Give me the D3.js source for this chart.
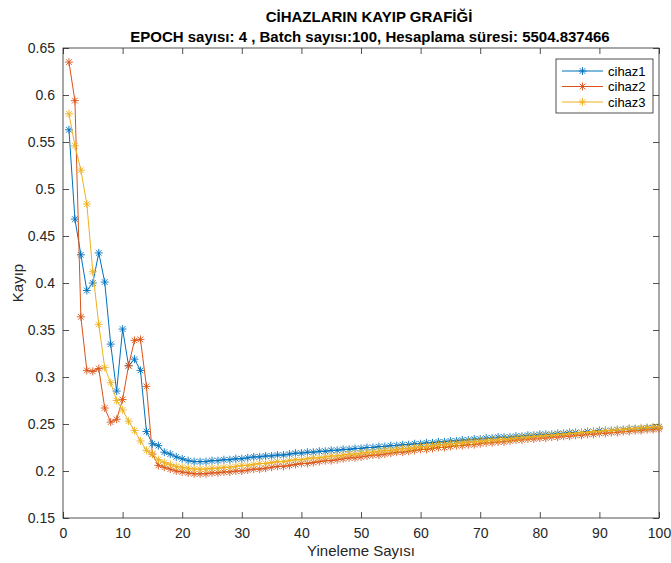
<!DOCTYPE html>
<html><head><meta charset="utf-8">
<script src="https://cdn.jsdelivr.net/npm/d3@7"></script>
<style>body{margin:0;background:#fff}svg{display:block;font-family:"Liberation Sans",Arial,Helvetica,sans-serif}</style>
</head><body><svg id="c" width="671" height="563"></svg>
<script>
const titleLines = ["CİHAZLARIN KAYIP GRAFİĞİ", "EPOCH sayısı: 4 , Batch sayısı:100, Hesaplama süresi: 5504.837466"];
const xLabel = "Yineleme Sayısı";
const yLabel = "Kayıp";
const seriesNames = ["cihaz1", "cihaz2", "cihaz3"];
const seriesColors = ["#0072BD", "#D95319", "#EDB120"];
const xTicks = [0,10,20,30,40,50,60,70,80,90,100];
const yTicks = [0.15,0.2,0.25,0.3,0.35,0.4,0.45,0.5,0.55,0.6,0.65];

const cihaz1 = [0.563,0.468,0.430,0.392,0.400,0.432,0.401,0.335,0.285,0.351,
0.312,0.319,0.307,0.242,0.229,0.227,0.220,0.218,0.215,0.213,
0.211,0.210,0.210,0.210,0.211,0.211,0.212,0.212,0.213,0.213,
0.214,0.215,0.215,0.216,0.216,0.217,0.217,0.218,0.219,0.219,
0.220,0.220,0.221,0.221,0.222,0.222,0.223,0.223,0.224,0.224,
0.225,0.225,0.226,0.226,0.227,0.227,0.228,0.228,0.229,0.229,
0.230,0.230,0.231,0.231,0.232,0.232,0.233,0.233,0.234,0.234,
0.235,0.235,0.236,0.236,0.236,0.237,0.237,0.238,0.238,0.239,
0.239,0.239,0.240,0.240,0.241,0.241,0.241,0.242,0.242,0.243,
0.243,0.243,0.244,0.244,0.245,0.245,0.245,0.246,0.246,0.247];

const cihaz2 = [0.635,0.594,0.364,0.307,0.306,0.309,0.267,0.252,0.255,0.276,
0.312,0.339,0.340,0.290,0.218,0.206,0.204,0.202,0.200,0.199,
0.198,0.197,0.197,0.197,0.198,0.198,0.199,0.199,0.200,0.200,
0.201,0.202,0.202,0.203,0.204,0.205,0.205,0.206,0.207,0.208,
0.208,0.209,0.210,0.211,0.211,0.212,0.213,0.214,0.214,0.215,
0.216,0.217,0.217,0.218,0.219,0.220,0.220,0.221,0.222,0.223,
0.223,0.224,0.225,0.225,0.226,0.227,0.227,0.228,0.228,0.229,
0.230,0.230,0.231,0.231,0.232,0.233,0.233,0.234,0.234,0.235,
0.235,0.236,0.236,0.237,0.237,0.238,0.238,0.239,0.239,0.240,
0.240,0.241,0.241,0.242,0.242,0.243,0.243,0.244,0.244,0.245];

const cihaz3 = [0.580,0.546,0.520,0.484,0.412,0.356,0.310,0.294,0.275,0.265,
0.253,0.243,0.232,0.222,0.218,0.212,0.209,0.207,0.205,0.204,
0.203,0.202,0.202,0.202,0.203,0.203,0.204,0.204,0.205,0.206,
0.206,0.207,0.208,0.208,0.209,0.210,0.210,0.211,0.212,0.212,
0.213,0.214,0.214,0.215,0.216,0.216,0.217,0.218,0.218,0.219,
0.220,0.220,0.221,0.222,0.222,0.223,0.224,0.224,0.225,0.226,
0.226,0.227,0.228,0.228,0.229,0.229,0.230,0.231,0.231,0.232,
0.232,0.233,0.233,0.234,0.234,0.235,0.236,0.236,0.237,0.237,
0.238,0.238,0.239,0.239,0.240,0.240,0.241,0.241,0.242,0.242,
0.243,0.243,0.244,0.244,0.245,0.245,0.246,0.246,0.247,0.247];

const seriesValues = [cihaz1, cihaz2, cihaz3];

const svg = d3.select("#c");
const L = 63, R = 659, T = 48, B = 518;
const x = d3.scaleLinear().domain([0,100]).range([L,R]);
const y = d3.scaleLinear().domain([0.15,0.65]).range([B,T]);
const axisColor = "#262626";
const fmt = d => String(+d.toFixed(2));

svg.append("rect").attr("x",L).attr("y",T).attr("width",R-L).attr("height",B-T)
  .attr("fill","none").attr("stroke",axisColor).attr("stroke-width",0.8);

const gx = svg.append("g").attr("transform",`translate(0,${B})`)
  .call(d3.axisBottom(x).tickValues(xTicks).tickSizeInner(-6).tickSizeOuter(0).tickPadding(10).tickFormat(d=>d));
const gxt = svg.append("g").attr("transform",`translate(0,${T})`)
  .call(d3.axisTop(x).tickValues(xTicks).tickSizeInner(-6).tickSizeOuter(0).tickFormat(""));
const gy = svg.append("g").attr("transform",`translate(${L},0)`)
  .call(d3.axisLeft(y).tickValues(yTicks).tickSizeInner(-6).tickSizeOuter(0).tickPadding(8).tickFormat(fmt));
const gyr = svg.append("g").attr("transform",`translate(${R},0)`)
  .call(d3.axisRight(y).tickValues(yTicks).tickSizeInner(-6).tickSizeOuter(0).tickFormat(""));
[gx,gxt,gy,gyr].forEach(g=>{
  g.select(".domain").remove();
  g.selectAll(".tick line").attr("stroke",axisColor).attr("stroke-width",0.8);
  g.selectAll("text").attr("fill",axisColor).style("font-size","14px").style("font-family","'Liberation Sans',Arial,sans-serif");
});

const line = d3.line().x((d,i)=>x(i+1)).y(d=>y(d));
const r = 4;
function star(g, cx, cy, color){
  const a = r*Math.SQRT1_2;
  g.append("path").attr("d",`M${cx-r},${cy}L${cx+r},${cy}M${cx},${cy-r}L${cx},${cy+r}M${cx-a},${cy-a}L${cx+a},${cy+a}M${cx-a},${cy+a}L${cx+a},${cy-a}`)
    .attr("stroke",color).attr("stroke-width",0.9).attr("fill","none");
}
const plot = svg.append("g");
seriesValues.forEach((vals,k)=>{
  const g = plot.append("g");
  g.append("path").datum(vals).attr("d",line).attr("fill","none")
    .attr("stroke",seriesColors[k]).attr("stroke-width",1);
  vals.forEach((v,i)=>star(g, x(i+1), y(v), seriesColors[k]));
});

svg.append("text").attr("x",(L+R)/2+8).attr("y",22).attr("text-anchor","middle")
  .style("font-size","15px").style("font-weight","bold").attr("fill","#000").text(titleLines[0]);
svg.append("text").attr("x",(L+R)/2+9).attr("y",42).attr("text-anchor","middle")
  .style("font-size","15px").style("font-weight","bold").attr("fill","#000").text(titleLines[1]);
svg.append("text").attr("x",(L+R)/2).attr("y",556).attr("text-anchor","middle")
  .style("font-size","15px").attr("fill",axisColor).text(xLabel);
svg.append("text").attr("transform",`translate(23,${(T+B)/2}) rotate(-90)`).attr("text-anchor","middle")
  .style("font-size","15px").attr("fill",axisColor).text(yLabel);

const lg = svg.append("g");
lg.append("rect").attr("x",556).attr("y",59).attr("width",97).attr("height",54)
  .attr("fill","#fff").attr("stroke",axisColor).attr("stroke-width",0.8);
seriesNames.forEach((n,k)=>{
  const yy = 71 + k*15.5;
  lg.append("line").attr("x1",562).attr("x2",603).attr("y1",yy).attr("y2",yy)
    .attr("stroke",seriesColors[k]).attr("stroke-width",1);
  star(lg, 582.5, yy, seriesColors[k]);
  lg.append("text").attr("x",608).attr("y",yy+4.5).style("font-size","13px").attr("fill","#000").text(n);
});
</script></body></html>
